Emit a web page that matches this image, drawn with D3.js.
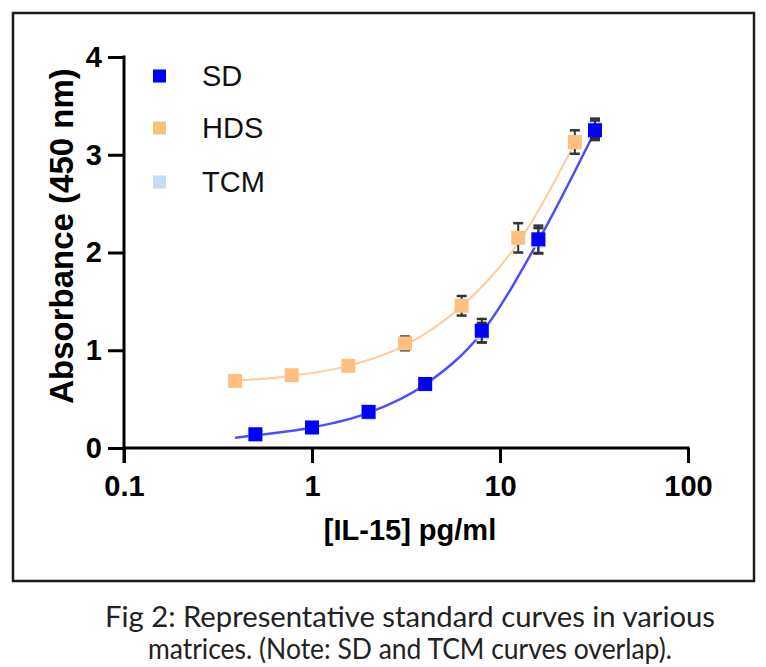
<!DOCTYPE html>
<html>
<head>
<meta charset="utf-8">
<script src="https://cdn.jsdelivr.net/npm/d3@7"></script>
<style>
  html, body { margin: 0; padding: 0; background: #fff; }
  svg { display: block; }
</style>
</head>
<body>
<svg id="chart" width="766" height="667"></svg>
<script>
// ---- data ----
const seriesNames = ["SD", "HDS", "TCM"];
const seriesColors = ["#0000ff", "#ffbf80", "#c6dcf5"];

const sdConc = [0.5, 1, 2, 4, 8, 16, 32];
const sdAbs  = [0.14, 0.21, 0.37, 0.655, 1.2, 2.135, 3.25];
const sdErr  = [0.02, 0.02, 0.02, 0.03, 0.12, 0.14, 0.1];

const hdsConc = [0.39, 0.78, 1.56, 3.125, 6.25, 12.5, 25];
const hdsAbs  = [0.685, 0.745, 0.84, 1.07, 1.455, 2.15, 3.13];
const hdsErr  = [0.02, 0.02, 0.03, 0.07, 0.1, 0.15, 0.12];

const tcmConc = [0.5, 1, 2, 4, 8, 16, 32];
const tcmAbs  = [0.14, 0.21, 0.36, 0.65, 1.18, 2.12, 3.27];
const tcmErr  = [0.02, 0.02, 0.02, 0.03, 0.1, 0.13, 0.1];

// fitted curves
const sdFitConc = [0.39, 0.5, 1, 2, 4, 8, 16, 32];
const sdFitAbs  = [0.105, 0.13, 0.21, 0.36, 0.65, 1.18, 2.12, 3.24];
const hdsFitConc = [0.39, 0.78, 1.56, 3.125, 6.25, 12.5, 25];
const hdsFitAbs  = [0.685, 0.74, 0.84, 1.05, 1.45, 2.1, 3.12];

const xTicks = [0.1, 1, 10, 100];
const xTickLabels = ["0.1", "1", "10", "100"];
const yTicks = [0, 1, 2, 3, 4];

const xTitle = "[IL-15] pg/ml";
const yTitle = "Absorbance (450 nm)";
const caption = ["Fig 2: Representative standard curves in various",
                 "matrices. (Note: SD and TCM curves overlap)."];
const captionWidths = [610, 524];

// ---- drawing ----
const svg = d3.select("#chart");
const x = d3.scaleLog().domain([0.1, 100]).range([124, 688]);
const y = d3.scaleLinear().domain([0, 4]).range([448, 57]);

// frame
svg.append("rect").attr("x", 13).attr("y", 13).attr("width", 741).attr("height", 568)
  .attr("fill", "none").attr("stroke", "#1a1a1a").attr("stroke-width", 2.5);

const axisFont = "'Liberation Sans', Arial, sans-serif";
const fs = 29;

// y axis
const yAxis = d3.axisLeft(y).tickValues(yTicks).tickFormat(d3.format("d")).tickSize(16).tickPadding(6);
const gy = svg.append("g").attr("transform", `translate(${x(0.1)},0)`).call(yAxis);
gy.select(".domain").remove();
gy.append("line").attr("x1", 0).attr("x2", 0).attr("y1", y(4) - 1.5).attr("y2", y(0) + 15)
  .attr("stroke", "#000").attr("stroke-width", 3);
gy.selectAll(".tick line").attr("stroke", "#000").attr("stroke-width", 3);
gy.selectAll(".tick text").attr("font-family", axisFont).attr("font-weight", "bold")
  .attr("font-size", fs).attr("fill", "#000");

// x axis
const xAxis = d3.axisBottom(x).tickValues(xTicks).tickFormat((d, i) => xTickLabels[i]).tickSize(15).tickPadding(12);
const gx = svg.append("g").attr("transform", `translate(0,${y(0)})`).call(xAxis);
gx.select(".domain").remove();
gx.append("line").attr("x1", x(0.1)).attr("x2", x(100) + 1.5).attr("y1", 0).attr("y2", 0)
  .attr("stroke", "#000").attr("stroke-width", 3);
gx.selectAll(".tick line").attr("stroke", "#000").attr("stroke-width", 3);
gx.selectAll(".tick text").attr("font-family", axisFont).attr("font-weight", "bold")
  .attr("font-size", fs).attr("fill", "#000");

// titles
svg.append("text").attr("x", 410).attr("y", 540).attr("text-anchor", "middle")
  .attr("font-family", axisFont).attr("font-weight", "bold").attr("font-size", fs)
  .text(xTitle);
svg.append("text").attr("transform", "translate(73,236) rotate(-90)").attr("text-anchor", "middle")
  .attr("font-family", axisFont).attr("font-weight", "bold").attr("font-size", 33)
  .text(yTitle);

// curves
const line = d3.line().x(d => x(d[0])).y(d => y(d[1])).curve(d3.curveMonotoneX);
svg.append("path").datum(d3.zip(hdsFitConc, hdsFitAbs)).attr("d", line)
  .attr("fill", "none").attr("stroke", "#ffcc99").attr("stroke-width", 2);
svg.append("path").datum(d3.zip(sdFitConc, sdFitAbs)).attr("d", line)
  .attr("fill", "none").attr("stroke", "#4d4dff").attr("stroke-width", 2.5);

function drawSeries(conc, abs, err, color) {
  const data = d3.zip(conc, abs, err);
  const g = svg.append("g");
  const eb = g.selectAll(".eb").data(data).enter().append("g").attr("class", "eb");
  const cap = 5;
  eb.append("line").attr("x1", d => x(d[0])).attr("x2", d => x(d[0]))
    .attr("y1", d => y(d[1] + d[2])).attr("y2", d => y(d[1] - d[2]))
    .attr("stroke", "#333").attr("stroke-width", 2);
  eb.append("line").attr("x1", d => x(d[0]) - cap).attr("x2", d => x(d[0]) + cap)
    .attr("y1", d => y(d[1] + d[2])).attr("y2", d => y(d[1] + d[2]))
    .attr("stroke", "#333").attr("stroke-width", 2.5);
  eb.append("line").attr("x1", d => x(d[0]) - cap).attr("x2", d => x(d[0]) + cap)
    .attr("y1", d => y(d[1] - d[2])).attr("y2", d => y(d[1] - d[2]))
    .attr("stroke", "#333").attr("stroke-width", 2.5);
  const s = 14;
  g.selectAll(".pt").data(data).enter().append("rect")
    .attr("x", d => x(d[0]) - s / 2).attr("y", d => y(d[1]) - s / 2)
    .attr("width", s).attr("height", s).attr("fill", color);
}
drawSeries(tcmConc, tcmAbs, tcmErr, seriesColors[2]);
drawSeries(hdsConc, hdsAbs, hdsErr, seriesColors[1]);
drawSeries(sdConc, sdAbs, sdErr, seriesColors[0]);

// legend
const legY = [76, 128, 182];
seriesNames.forEach((n, i) => {
  svg.append("rect").attr("x", 153).attr("y", legY[i] - 6.5).attr("width", 13).attr("height", 13)
    .attr("fill", seriesColors[i]);
  svg.append("text").attr("x", 202).attr("y", legY[i]).attr("dy", "0.36em")
    .attr("font-family", axisFont).attr("font-size", fs).attr("fill", "#111").text(n);
});

// caption
caption.forEach((c, i) => {
  svg.append("text").attr("x", 410).attr("y", 627 + i * 32).attr("text-anchor", "middle")
    .attr("font-family", "Lato, 'Open Sans', sans-serif").attr("font-size", 28).attr("fill", "#222")
    .attr("textLength", captionWidths[i]).attr("lengthAdjust", "spacingAndGlyphs")
    .text(c);
});
</script>
</body>
</html>
